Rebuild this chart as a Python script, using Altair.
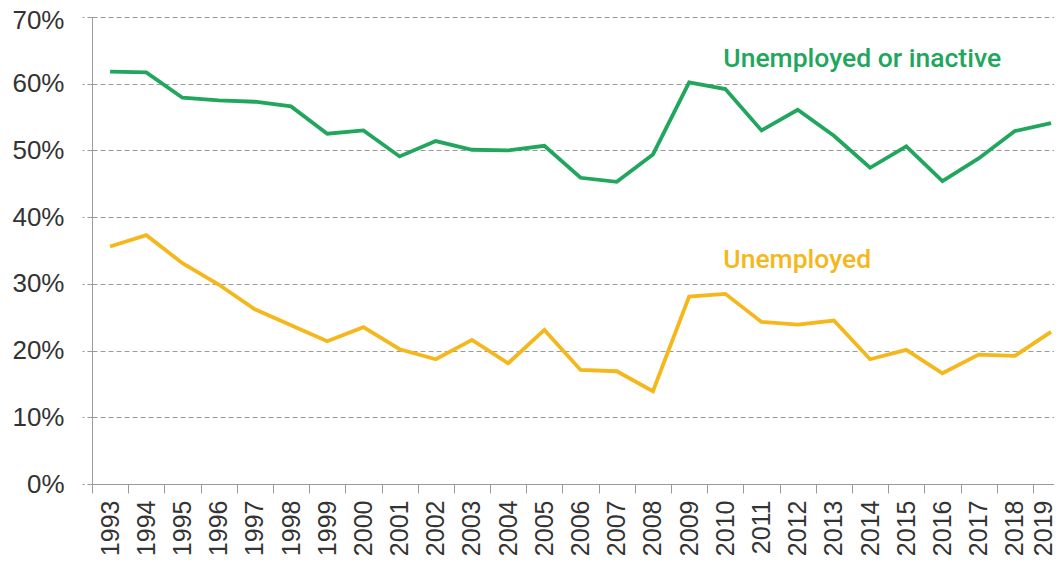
import altair as alt
import pandas as pd

years = list(range(1993, 2020))
unemployed_or_inactive = [61.8, 61.7, 57.9, 57.5, 57.3, 56.6, 52.5, 53.0, 49.1, 51.4,
                          50.1, 50.0, 50.7, 45.9, 45.3, 49.4, 60.2, 59.2, 53.0, 56.1,
                          52.2, 47.4, 50.6, 45.4, 48.8, 52.9, 54.1]
unemployed = [35.6, 37.3, 33.1, 29.9, 26.2, 23.8, 21.4, 23.5, 20.2, 18.7,
              21.6, 18.1, 23.1, 17.1, 16.9, 13.9, 28.1, 28.5, 24.3, 23.9,
              24.5, 18.7, 20.1, 16.6, 19.4, 19.2, 22.8]
series_names = ["Unemployed or inactive", "Unemployed"]
series_colors = ["#21a65d", "#f4b71c"]
label_years = [2010, 2010]
label_values = [62.5, 32.4]
y_ticks = [0, 10, 20, 30, 40, 50, 60, 70]

rows = []
for y, a, b in zip(years, unemployed_or_inactive, unemployed):
    rows.append({"year": y, "value": a, "series": series_names[0]})
    rows.append({"year": y, "value": b, "series": series_names[1]})
df = pd.DataFrame(rows)
labels_df = pd.DataFrame({"year": label_years, "value": label_values, "series": series_names})

# each year occupies one slot; the last slot runs past the right edge of the picture
PLOT_W = 962
STEP = 36.19
x_domain = [years[0] - 0.5, years[0] - 0.5 + PLOT_W / STEP]
x_scale = alt.Scale(domain=x_domain, nice=False, zero=False)
y_scale = alt.Scale(domain=[0, 70], nice=False)
color_scale = alt.Scale(domain=series_names, range=series_colors)

boundaries = [y - 0.5 for y in years]

x_tick_axis = alt.Axis(title=None, orient="bottom", values=boundaries, labels=False,
                       tickSize=9, domainColor="#9a9a9a", tickColor="#9a9a9a", grid=False)
x_label_axis = alt.Axis(title=None, orient="bottom", values=years, format="d",
                        labelAngle=-90, labelAlign="right", labelBaseline="middle",
                        tickSize=9, tickOpacity=0, domain=False, labelPadding=7,
                        labelOffset={"condition": {"test": "datum.value == 2019", "value": -8},
                                     "value": 0},
                        labelFontSize=25, labelFont="Liberation Sans", labelColor="#333333",
                        grid=False, labelOverlap=False, labelBound=False, labelFlush=False)
y_axis = alt.Axis(title=None, values=y_ticks, labelExpr="datum.value + '%'", tickSize=10,
                  labelPadding=18, labelFontSize=26, labelFont="Liberation Sans",
                  labelOffset={"condition": {"test": "datum.value == 70", "value": 3},
                               "value": 0},
                  labelColor="#333333", domainColor="#9a9a9a", tickColor="#9a9a9a",
                  tickDash=[5, 3], grid=True, gridDash=[5, 3], gridColor="#9a9a9a",
                  gridWidth=1)

lines = alt.Chart(df).mark_line(strokeWidth=3.8).encode(
    x=alt.X("year:Q", scale=x_scale, axis=x_tick_axis),
    y=alt.Y("value:Q", scale=y_scale, axis=y_axis),
    color=alt.Color("series:N", scale=color_scale, legend=None),
    detail="series:N",
)

texts = alt.Chart(labels_df).mark_text(align="left", baseline="alphabetic", fontSize=26.5,
                                       fontWeight=500, font="Roboto", dx=-2).encode(
    x=alt.X("year:Q", scale=x_scale, axis=x_label_axis),
    y=alt.Y("value:Q", scale=y_scale),
    text="series:N",
    color=alt.Color("series:N", scale=color_scale, legend=None),
)

chart = alt.layer(lines, texts).resolve_axis(x="independent").properties(
    width=PLOT_W, height=467,
    padding={"left": 84, "top": 9, "right": 0, "bottom": 72},
    autosize=alt.AutoSizeParams(type="none"),
    background="white",
).configure_view(stroke=None)

chart.save("out.html", embed_options={"renderer": "svg", "actions": False})
